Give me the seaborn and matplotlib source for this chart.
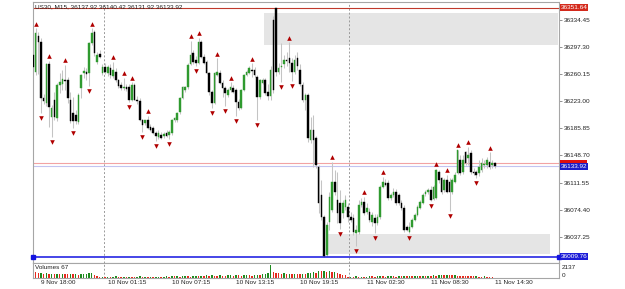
import numpy as np
import pandas as pd
import matplotlib
matplotlib.use("Agg")
import matplotlib.pyplot as plt
import matplotlib.transforms as mtransforms
from matplotlib.patches import Rectangle
import seaborn as sns

# US30, M15 bars (9 Nov 17:15 -> 11 Nov 14:30)
opens = [36286, 36263, 36312, 36304, 36227, 36221, 36274, 36201, 36225, 36200,
         36245, 36247, 36252, 36252, 36225, 36207, 36204, 36195, 36241, 36262,
         36263, 36262, 36303, 36318, 36277, 36288, 36262, 36270, 36262, 36269,
         36258, 36263, 36252, 36245, 36241, 36243, 36243, 36225, 36245, 36225,
         36223, 36197, 36193, 36197, 36188, 36186, 36179, 36174, 36177, 36175,
         36179, 36177, 36179, 36197, 36197, 36208, 36227, 36238, 36243, 36274,
         36289, 36280, 36275, 36304, 36284, 36277, 36262, 36236, 36221, 36259,
         36262, 36248, 36241, 36232, 36238, 36241, 36238, 36222, 36214, 36238,
         36259, 36262, 36266, 36266, 36256, 36229, 36248, 36252, 36236, 36230,
         36334, 36351, 36263, 36270, 36274, 36280, 36282, 36275, 36263, 36282,
         36266, 36245, 36225, 36232, 36170, 36184, 36173, 36133, 36094, 36064,
         36012, 36057, 36074, 36112, 36088, 36083, 36070, 36078, 36078, 36064,
         36063, 36042, 36044, 36081, 36085, 36071, 36071, 36057, 36063, 36056,
         36064, 36105, 36111, 36111, 36090, 36094, 36099, 36094, 36083, 36077,
         36051, 36044, 36051, 36060, 36067, 36077, 36083, 36096, 36099, 36101,
         36089, 36090, 36126, 36118, 36101, 36115, 36112, 36099, 36112, 36125,
         36142, 36126, 36153, 36145, 36152, 36126, 36126, 36125, 36129, 36136,
         36136, 36140, 36136, 36137.92]
highs = [36293, 36323, 36318, 36310, 36233, 36275, 36278, 36218, 36236, 36248,
         36262, 36266, 36273, 36256, 36236, 36229, 36211, 36234, 36260, 36270,
         36269, 36304, 36323, 36321, 36291, 36293, 36274, 36275, 36273, 36274,
         36277, 36269, 36254, 36249, 36255, 36247, 36247, 36249, 36248, 36230,
         36227, 36199, 36197, 36203, 36192, 36189, 36182, 36184, 36181, 36181,
         36184, 36184, 36199, 36201, 36208, 36229, 36244, 36244, 36275, 36306,
         36293, 36285, 36310, 36307, 36288, 36280, 36263, 36238, 36263, 36282,
         36266, 36252, 36244, 36241, 36249, 36245, 36241, 36226, 36240, 36260,
         36266, 36271, 36275, 36270, 36259, 36254, 36255, 36255, 36247, 36271,
         36340, 36351.64, 36275, 36303, 36286, 36291, 36304, 36282, 36286, 36291,
         36274, 36249, 36234, 36234, 36201, 36204, 36175, 36136, 36115, 36067,
         36057, 36099, 36140, 36129, 36126, 36101, 36088, 36094, 36083, 36071,
         36068, 36053, 36088, 36090, 36092, 36083, 36077, 36071, 36068, 36068,
         36108, 36119, 36116, 36115, 36097, 36104, 36103, 36097, 36088, 36081,
         36053, 36057, 36063, 36070, 36081, 36088, 36097, 36101, 36104, 36107,
         36108, 36130, 36129, 36119, 36118, 36122, 36118, 36118, 36126, 36156,
         36149, 36149, 36155, 36160, 36156, 36131, 36129, 36142, 36145, 36142,
         36147, 36153, 36142, 36140.42]
lows = [36266, 36259, 36260, 36207, 36219, 36216, 36188, 36174, 36197, 36196,
        36234, 36238, 36238, 36221, 36193, 36186, 36192, 36192, 36227, 36255,
        36252, 36244, 36300, 36285, 36274, 36282, 36259, 36260, 36258, 36255,
        36255, 36249, 36241, 36238, 36238, 36237, 36222, 36223, 36225, 36219,
        36196, 36181, 36190, 36185, 36182, 36178, 36168, 36171, 36171, 36173,
        36174, 36171, 36177, 36195, 36195, 36206, 36226, 36236, 36240, 36273,
        36274, 36271, 36274, 36282, 36274, 36260, 36232, 36214, 36219, 36258,
        36247, 36229, 36216, 36229, 36236, 36234, 36203, 36211, 36212, 36237,
        36258, 36260, 36256, 36256, 36197, 36226, 36247, 36232, 36225, 36225,
        36234, 36258, 36260, 36249, 36269, 36271, 36263, 36251, 36260, 36266,
        36244, 36222, 36211, 36167, 36166, 36133, 36131, 36070, 36060, 36009.76,
        36011, 36046, 36071, 36094, 36056, 36048, 36063, 36074, 36057, 36057,
        36040, 36024, 36041, 36078, 36067, 36068, 36057, 36052, 36042, 36053,
        36062, 36104, 36107, 36088, 36088, 36092, 36081, 36081, 36074, 36044,
        36045, 36042, 36049, 36059, 36066, 36075, 36082, 36093, 36096, 36086,
        36088, 36089, 36111, 36096, 36099, 36097, 36072, 36096, 36111, 36123,
        36122, 36123, 36136, 36136, 36123, 36122, 36118, 36120, 36126, 36131,
        36131, 36130, 36131, 36131.92]
closes = [36270, 36317, 36304, 36227, 36223, 36274, 36215, 36214, 36201, 36245,
          36249, 36254, 36251, 36227, 36196, 36196, 36196, 36232, 36259, 36264,
          36260, 36303, 36317, 36289, 36286, 36284, 36270, 36263, 36270, 36259,
          36266, 36252, 36244, 36241, 36243, 36240, 36225, 36245, 36225, 36223,
          36197, 36190, 36197, 36186, 36184, 36179, 36175, 36179, 36173, 36178,
          36175, 36181, 36197, 36200, 36207, 36227, 36243, 36243, 36273, 36286,
          36277, 36275, 36304, 36284, 36275, 36262, 36236, 36221, 36262, 36263,
          36248, 36241, 36234, 36238, 36243, 36236, 36222, 36214, 36238, 36259,
          36263, 36269, 36264, 36259, 36229, 36252, 36252, 36234, 36230, 36266,
          36238, 36263, 36269, 36271, 36280, 36278, 36275, 36263, 36280, 36271,
          36247, 36225, 36232, 36173, 36184, 36170, 36136, 36083, 36064, 36011,
          36053, 36092, 36112, 36099, 36070, 36056, 36083, 36088, 36064, 36060,
          36044, 36046, 36081, 36085, 36070, 36077, 36060, 36067, 36056, 36064,
          36105, 36112, 36108, 36090, 36094, 36099, 36083, 36083, 36077, 36046,
          36046, 36051, 36060, 36067, 36078, 36085, 36094, 36099, 36101, 36088,
          36105, 36129, 36115, 36099, 36115, 36099, 36099, 36115, 36122, 36156,
          36125, 36142, 36138, 36149, 36126, 36125, 36122, 36133, 36138, 36137,
          36142, 36133, 36138, 36133.92]
volumes = [1150, 1020, 760, 820, 700, 760, 690, 720, 650, 700,
           610, 680, 640, 600, 650, 580, 620, 560, 600, 640,
           700, 760, 820, 540, 260, 150,
           210, 180, 230, 170, 200, 250, 190, 160, 220, 180,
           240, 200, 170, 210, 260, 190, 230, 180, 220, 170,
           200, 240, 190, 210, 260, 230, 300, 250, 280, 220,
           260, 310, 270, 240, 290, 330, 280,
           380, 340, 420, 360, 450, 400, 360, 430, 390, 350,
           410, 440, 380, 470, 420, 380, 450, 500, 430, 400,
           520, 560, 480, 650, 720, 830, 2137,
           1000, 860, 780, 700, 740, 660, 700, 620, 680, 640,
           600, 720, 680, 760, 820, 900, 860,
           1150, 1080, 1200, 960, 1100, 900, 1000, 860, 700, 520, 440,
           180, 220, 200, 260, 210, 240, 190, 230, 280, 250,
           220, 260, 300, 270, 240, 280, 320, 260, 230, 270,
           250, 300, 280, 330, 290, 310, 350, 300, 380, 340,
           400, 360, 420, 380, 460, 500, 450, 520, 480, 430,
           470, 400, 380, 350, 320, 300, 280, 260, 300, 240,
           220, 260, 200, 180, 150, 67]

# Bill Williams fractals (bar numbers)
up_fractals = [1, 6, 12, 22, 30, 34, 37, 43, 59, 62, 69, 74, 82, 96,
               112, 124, 131, 151, 155, 159, 163, 171]
down_fractals = [3, 7, 15, 21, 36, 41, 46, 51, 61, 67, 72, 76, 84, 93,
                 97, 115, 121, 128, 141, 149, 156, 166]

tick_bars = [3, 28, 52, 76, 100, 125, 149, 173]
tick_labels = ["9 Nov 18:00", "10 Nov 01:15", "10 Nov 07:15", "10 Nov 13:15",
               "10 Nov 19:15", "11 Nov 02:30", "11 Nov 08:30", "11 Nov 14:30"]
day_start_bars = [27, 119]
price_ticks = [36334.45, 36297.30, 36260.15, 36223.00, 36185.85,
               36148.70, 36111.55, 36074.40, 36037.25]

# zones: start bar, end bar, low, high
zone_start = [87, 111]
zone_end = [197, 194]
zone_low = [36300.2, 36012.9]
zone_high = [36344.1, 36041.0]

high_level = 36351.64
low_level = 36009.76
bid = 36133.92
ask = 36138.42
title = "US30, M15, 36137.92 36140.42 36131.92 36133.92"
vol_title = "Volumes 67"

df = pd.DataFrame({"bar": np.arange(len(closes)), "open": opens, "high": highs,
                   "low": lows, "close": closes, "volume": volumes})
df["up"] = df["close"] >= df["open"]

sns.set_theme(style="white")
plt.rcParams["font.family"] = ["Liberation Sans", "DejaVu Sans"]
FS = 4.6
GREEN = "#2f9a2f"
FRAME = "#a6a6a6"

fig = plt.figure(figsize=(6.25, 2.89), dpi=100)
ax = fig.add_axes([33 / 625, 26 / 289, 526 / 625, 261 / 289])
axv = fig.add_axes([33 / 625, 11 / 289, 526 / 625, 15 / 289], sharex=ax)

x_lo, x_hi = 0, 197
ax.set_xlim(x_lo, x_hi)
ax.set_ylim(36001.2, 36359.2)

# zones
for s, e, lo, hi in zip(zone_start, zone_end, zone_low, zone_high):
    ax.add_patch(Rectangle((s - 0.5, lo), e - s, hi - lo, facecolor="#e5e5e5",
                           edgecolor="none", zorder=0))

# day separators
for b in day_start_bars:
    for a in (ax, axv):
        a.axvline(b - 0.5, color="#9a9a9a", lw=0.7, ls=(0, (2, 2)), zorder=1)

# bid / ask / high lines
ax.axhline(ask, color="#f2a3a3", lw=0.8, zorder=1)
ax.axhline(bid, color="#c3c3f0", lw=0.8, zorder=1)
ax.axhline(high_level, color="#c0392b", lw=0.8, zorder=1)
ax.plot([x_lo, x_hi], [low_level, low_level], color="#1414e0", lw=1.1,
        marker="s", markersize=2.6, clip_on=False, zorder=3)

# candles
ax.vlines(df["bar"], df["low"], df["high"], color="#c4c4c4", lw=0.75, zorder=2)
body_bottom = df[["open", "close"]].min(axis=1)
body_height = (df["close"] - df["open"]).abs()
body_colors = np.where(df["up"], GREEN, "#000000")
ax.bar(df["bar"], body_height, bottom=body_bottom, width=0.6, color=body_colors,
       edgecolor=body_colors, linewidth=0.3, zorder=3)

# fractal arrows
ARROW_GAP = 6.5
up_df = pd.DataFrame({"bar": up_fractals,
                      "price": df.loc[up_fractals, "high"].values + ARROW_GAP})
dn_df = pd.DataFrame({"bar": down_fractals,
                      "price": df.loc[down_fractals, "low"].values - ARROW_GAP})
sns.scatterplot(data=up_df, x="bar", y="price", marker="^", s=11, color="#b00000",
                linewidth=0, ax=ax, zorder=4)
sns.scatterplot(data=dn_df, x="bar", y="price", marker="v", s=11, color="#b00000",
                linewidth=0, ax=ax, zorder=4)

# volumes (green when rising vs previous bar)
vol_up = np.r_[False, np.diff(df["volume"].values) >= 0]
axv.bar(df["bar"], df["volume"], width=0.55, color=np.where(vol_up, "#1f8a1f", "#e52a1e"),
        linewidth=0)
axv.set_ylim(0, 2410)

# axes cosmetics
for a in (ax, axv):
    a.set_xlabel("")
    a.set_ylabel("")
    for sp in a.spines.values():
        sp.set_color(FRAME)
        sp.set_linewidth(0.8)
    a.grid(False)

ax.yaxis.tick_right()
ax.set_yticks(price_ticks)
ax.set_yticklabels([f"{v:.2f}" for v in price_ticks])
ax.tick_params(axis="y", right=True, length=2, width=0.6, color="#808080",
               labelsize=FS, labelcolor="#222222", pad=1.2)
ax.tick_params(axis="x", bottom=False, labelbottom=False)

axv.set_yticks([])
axv.set_xticks(tick_bars)
axv.set_xticklabels(tick_labels, ha="left")
axv.tick_params(axis="x", bottom=False, length=0, labelsize=FS,
                labelcolor="#222222", pad=1.5)

# labels on the price scale
trans = mtransforms.blended_transform_factory(ax.transAxes, ax.transData)
# ask label sits behind the bid label, only its top edge shows
ax.add_patch(Rectangle((1.002, ask - 3.0), 0.052, 7.0, transform=trans,
                       facecolor="#e01010", edgecolor="none", clip_on=False, zorder=4))
for price, fc in [(high_level, "#d42a1c"), (bid, "#1c1cc8"), (low_level, "#1c1cd8")]:
    ax.text(1.003, price, f"{price:.2f}", transform=trans, ha="left", va="center",
            fontsize=FS, color="white", clip_on=False, zorder=5,
            bbox=dict(boxstyle="square,pad=0.12", fc=fc, ec="none"))

vtrans = mtransforms.blended_transform_factory(axv.transAxes, axv.transData)
axv.text(1.006, 2137, "2137", transform=vtrans, ha="left", va="top",
         fontsize=FS, color="#222222", clip_on=False)
axv.text(1.006, 0, "0", transform=vtrans, ha="left", va="bottom",
         fontsize=FS, color="#222222", clip_on=False)

ax.text(0.003, 0.981, title, transform=ax.transAxes, ha="left", va="center",
        fontsize=FS, color="#222222")
axv.text(0.003, 0.72, vol_title, transform=axv.transAxes, ha="left", va="center",
         fontsize=FS, color="#222222")

fig.savefig("out.png", dpi=100)
